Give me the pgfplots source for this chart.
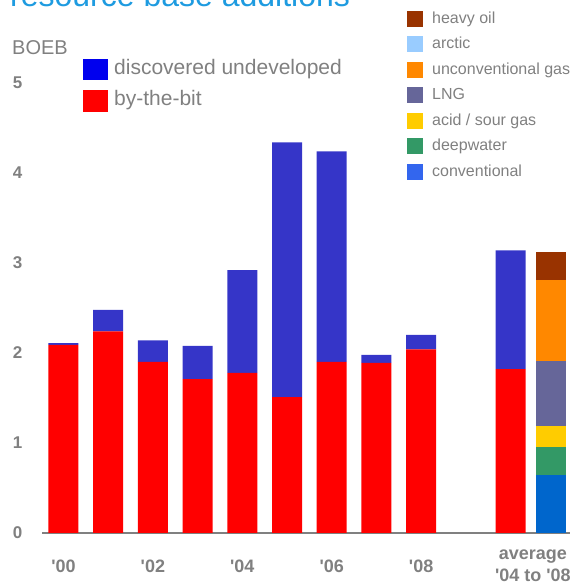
\documentclass[border=0pt]{standalone}
\usepackage{fontspec}
\setmainfont{Liberation Sans}
\usepackage{pgfplots}
\pgfplotsset{compat=1.18}

\definecolor{bitred}{HTML}{FF0000}
\definecolor{dubar}{HTML}{3535C8}
\definecolor{dulegend}{HTML}{0000EE}
\definecolor{heavy}{HTML}{993300}
\definecolor{arctic}{HTML}{99CCFF}
\definecolor{unconv}{HTML}{FF8800}
\definecolor{lng}{HTML}{666699}
\definecolor{acid}{HTML}{FFCC00}
\definecolor{deep}{HTML}{339966}
\definecolor{conv}{HTML}{0066CC}
\definecolor{convleg}{HTML}{3366EE}
\definecolor{txtgray}{HTML}{808080}
\definecolor{titleblue}{HTML}{1E9BE0}

% by-the-bit and discovered undeveloped, BOEB
\pgfplotstableread{
x   bit   undev
0   2.09  0.02
1   2.24  0.24
2   1.90  0.24
3   1.71  0.37
4   1.78  1.14
5   1.51  2.83
6   1.90  2.34
7   1.89  0.09
8   2.04  0.16
10  1.82  1.32
}\yearlytab

% split of the 04-08 average by resource type
\pgfplotstableread{
x     conv  deep  acid  lng   unconv arctic heavy
10.9  0.64  0.31  0.24  0.72  0.90   0.00   0.31
}\splittab

\pgfplotsset{
  base/.style={
    at={(42bp,52bp)}, anchor=south west,
    scale only axis, width=528bp, height=495bp,
    xmin=-0.48, xmax=11.33, ymin=0, ymax=5.5,
    ybar stacked, bar width=30bp,
  }
}

\begin{document}
\begin{tikzpicture}
\useasboundingbox (0,0) rectangle (578bp,585bp);
\clip (0,0) rectangle (578bp,585bp);

\node[anchor=base west, inner sep=0, text=titleblue,
  font=\fontsize{32bp}{38bp}\selectfont] at (10bp,578bp) {resource base additions};

\begin{axis}[base,
  axis lines=left,
  x axis line style={-, draw=txtgray, line width=1.2bp},
  y axis line style={draw=none},
  xtick style={draw=none}, ytick style={draw=none},
  ytick={0,1,2,3,4,5},
  /pgf/number format/assume math mode=true,
  yticklabel style={font=\fontsize{17bp}{20bp}\selectfont\bfseries,
    text=txtgray, xshift=-14bp},
  xtick={0,2,4,6,8,10.5},
  xticklabels={\textquotesingle00,\textquotesingle02,\textquotesingle04,
    \textquotesingle06,\textquotesingle08,
    {average\\\textquotesingle04 to \textquotesingle08}},
  xticklabel style={font=\fontsize{18bp}{22bp}\selectfont\bfseries,
    text=txtgray, align=center, anchor=center, yshift=-31bp},
]
\addplot[fill=bitred, draw=none] table[x=x, y=bit] {\yearlytab};
\addplot[fill=dubar, draw=none] table[x=x, y=undev] {\yearlytab};
\end{axis}

\begin{axis}[base, hide axis]
\addplot[fill=conv, draw=none] table[x=x, y=conv] {\splittab};
\addplot[fill=deep, draw=none] table[x=x, y=deep] {\splittab};
\addplot[fill=acid, draw=none] table[x=x, y=acid] {\splittab};
\addplot[fill=lng, draw=none] table[x=x, y=lng] {\splittab};
\addplot[fill=unconv, draw=none] table[x=x, y=unconv] {\splittab};
\addplot[fill=heavy, draw=none] table[x=x, y=heavy] {\splittab};
\end{axis}

% unit
\node[anchor=base west, inner sep=0, text=txtgray,
  font=\fontsize{20bp}{24bp}\selectfont] at (12bp,530.7bp) {BOEB};

% legend: bar types
\fill[dulegend] (83bp,505bp) rectangle (108bp,526bp);
\fill[bitred] (83bp,473bp) rectangle (108bp,495bp);
\begin{scope}[every node/.style={anchor=base west, inner sep=0, text=txtgray,
    font=\fontsize{21bp}{25bp}\selectfont}]
  \node at (114bp,510bp) {discovered undeveloped};
  \node at (114bp,479.5bp) {by-the-bit};
\end{scope}

% legend: resource types
\begin{scope}[every node/.style={anchor=base west, inner sep=0, text=txtgray,
    font=\fontsize{16bp}{19bp}\selectfont}]
  \foreach \col/\lab [count=\i from 0] in {heavy/heavy oil, arctic/arctic,
      unconv/unconventional gas, lng/LNG, acid/{acid / sour gas},
      deep/deepwater, convleg/conventional} {
    \pgfmathsetmacro{\yc}{585-(19+25.5*\i)}
    \fill[\col] (407bp,\yc bp-8bp) rectangle (423bp,\yc bp+8bp);
    \node at (432bp,\yc bp-4.5bp) {\lab};
  }
\end{scope}
\end{tikzpicture}
\end{document}
